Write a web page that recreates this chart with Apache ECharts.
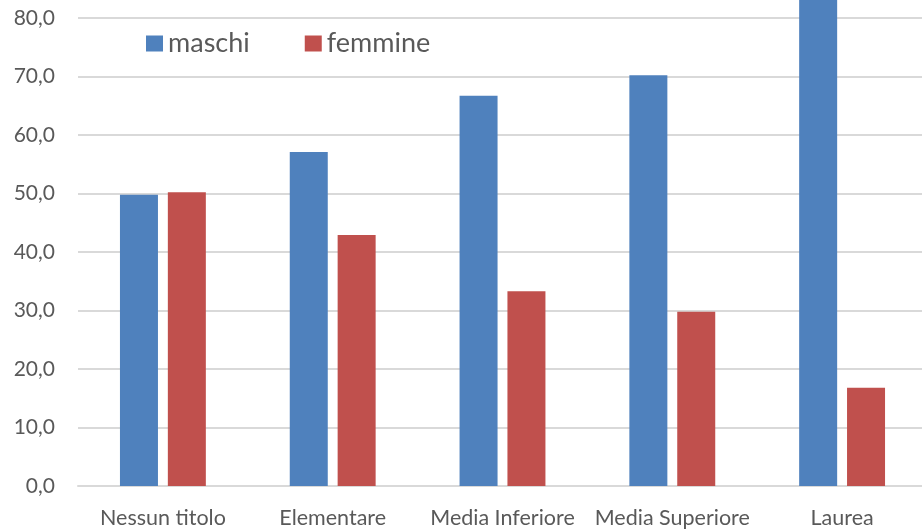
<!DOCTYPE html>
<html>
<head>
<meta charset="utf-8">
<script src="https://cdn.jsdelivr.net/npm/echarts@6/dist/echarts.min.js"></script>
<style>
  html, body { margin: 0; padding: 0; background: #fff; }
  #chart { width: 922px; height: 531px; }
</style>
</head>
<body>
<div id="chart"></div>
<script>
// Titolo di studio: quota percentuale maschi / femmine
const categories = ['Nessun titolo', 'Elementare', 'Media Inferiore', 'Media Superiore', 'Laurea'];
const maschi = [49.8, 57.1, 66.7, 70.2, 83.2];
const femmine = [50.2, 42.9, 33.3, 29.8, 16.8];
const seriesNames = ['maschi', 'femmine'];

const FONT = 'Lato, "Open Sans", sans-serif';
const TEXT = '#595959';

const chart = echarts.init(document.getElementById('chart'), null, { renderer: 'canvas' });
chart.setOption({
  animation: false,
  backgroundColor: '#ffffff',
  textStyle: { fontFamily: FONT },
  legend: {
    left: 141,
    top: 25,
    itemWidth: 17,
    itemHeight: 16,
    itemGap: 55,
    icon: 'rect',
    textStyle: { fontSize: 27, color: TEXT, fontFamily: FONT, padding: [0, 0, 0, 0] },
    data: seriesNames
  },
  // the plot runs past the top and right edges of the canvas
  grid: { left: 78, right: -5, top: -40.5, bottom: 45, outerBoundsMode: 'none', containLabel: false },
  xAxis: {
    type: 'category',
    data: categories,
    axisLine: { lineStyle: { color: '#d9d9d9', width: 2 } },
    axisTick: { show: false },
    axisLabel: { color: TEXT, fontSize: 21.5, fontFamily: FONT, margin: 21, interval: 0 }
  },
  yAxis: {
    type: 'value',
    min: 0,
    max: 90,
    interval: 10,
    axisLine: { show: false },
    axisTick: { show: false },
    splitLine: { lineStyle: { color: '#d9d9d9', width: 2 } },
    axisLabel: {
      color: TEXT, fontSize: 21, fontFamily: FONT, margin: 23,
      formatter: v => v.toFixed(1).replace('.', ',')
    }
  },
  series: [
    {
      name: seriesNames[0], type: 'bar', data: maschi,
      barWidth: 38, barGap: '26%',
      itemStyle: { color: '#4f81bd' }
    },
    {
      name: seriesNames[1], type: 'bar', data: femmine,
      barWidth: 38, barGap: '26%',
      itemStyle: { color: '#c0504d' }
    }
  ]
});
</script>
</body>
</html>
